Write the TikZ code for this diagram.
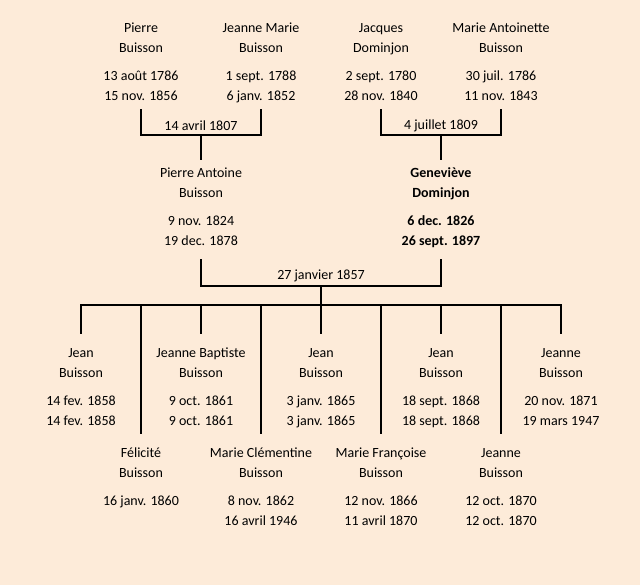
\documentclass[tikz,border=0pt]{standalone}
\usepackage{fontspec}
\setmainfont{Carlito}
\usepackage{xcolor}
\definecolor{parchment}{RGB}{253,235,217}
\newcommand{\persontext}[4]{#1\strut\\#2\strut\\[8pt]#3\strut\\#4\strut}

\begin{document}
\begin{tikzpicture}[
    x=1pt, y=-1pt,
    psn/.style ={
        align=center,
        anchor=north,
        inner xsep=0pt,
        inner ysep=3pt,
        font=\fontsize{14}{20}\selectfont
    },
    bpsn/.style ={
        psn,
        font=\fontsize{14}{20}\selectfont\bfseries
    },
    wed/.style ={
        font=\fontsize{14}{16}\selectfont
    },
    lnk/.style ={
        line width=2pt
    },
    drop/.style ={
        lnk,
        shorten >=6pt
    }
    ]
    \path[use as bounding box, fill=parchment] (0,0) rectangle (640,585);

    % grandparents
    \node[psn] (pierre) at (141,15) {\persontext{Pierre}{Buisson}{13 août 1786}{15 nov. 1856}};
    \node[psn] (jeannemarie) at (261,15) {\persontext{Jeanne Marie}{Buisson}{1 sept. 1788}{6 janv. 1852}};
    \node[psn] (jacques) at (381,15) {\persontext{Jacques}{Dominjon}{2 sept. 1780}{28 nov. 1840}};
    \node[psn] (marieantoinette) at (501,15) {\persontext{Marie Antoinette}{Buisson}{30 juil. 1786}{11 nov. 1843}};

    % parents
    \node[psn] (pierreantoine) at (201,160) {\persontext{Pierre Antoine}{Buisson}{9 nov. 1824}{19 dec. 1878}};
    \node[bpsn] (genevieve) at (441,160) {\persontext{Geneviève}{Dominjon}{6 dec. 1826}{26 sept. 1897}};

    % children
    \node[psn] (jeanA) at (81,340) {\persontext{Jean}{Buisson}{14 fev. 1858}{14 fev. 1858}};
    \node[psn] (jeannebaptiste) at (201,340) {\persontext{Jeanne Baptiste}{Buisson}{9 oct. 1861}{9 oct. 1861}};
    \node[psn] (jeanB) at (321,340) {\persontext{Jean}{Buisson}{3 janv. 1865}{3 janv. 1865}};
    \node[psn] (jeanC) at (441,340) {\persontext{Jean}{Buisson}{18 sept. 1868}{18 sept. 1868}};
    \node[psn] (jeanneB) at (561,340) {\persontext{Jeanne}{Buisson}{20 nov. 1871}{19 mars 1947}};
    \node[psn] (felicite) at (141,440) {\persontext{Félicité}{Buisson}{16 janv. 1860}{}};
    \node[psn] (marieclementine) at (261,440) {\persontext{Marie Clémentine}{Buisson}{8 nov. 1862}{16 avril 1946}};
    \node[psn] (mariefrancoise) at (381,440) {\persontext{Marie Françoise}{Buisson}{12 nov. 1866}{11 avril 1870}};
    \node[psn] (jeanneA) at (501,440) {\persontext{Jeanne}{Buisson}{12 oct. 1870}{12 oct. 1870}};

    % marriages
    \coordinate (u1) at (201,135);
    \coordinate (u2) at (441,135);
    \coordinate (u3) at (321,286);
    \coordinate (hub) at (321,305);
    \node[wed] (wed1) at (201,126) {14 avril 1807};
    \node[wed] (wed2) at (441,126) {4 juillet 1809};
    \node[wed] (wed3) at (321,276) {27 janvier 1857};

    \draw[lnk] (pierre.south) |- (u1) -| (jeannemarie.south);
    \draw[lnk] (u1) -- (pierreantoine.north);
    \draw[lnk] (jacques.south) |- (u2) -| (marieantoinette.south);
    \draw[lnk] (u2) -- (genevieve.north);
    \draw[lnk] ([yshift=-5pt]pierreantoine.south) |- (u3) -| ([yshift=-5pt]genevieve.south);
    \draw[lnk] (u3) -- (hub);
    \foreach \kid in {jeanA,jeannebaptiste,jeanB,jeanC,jeanneB,felicite,marieclementine,mariefrancoise,jeanneA}
        \draw[drop] (hub) -| (\kid.north);
\end{tikzpicture}
\end{document}
